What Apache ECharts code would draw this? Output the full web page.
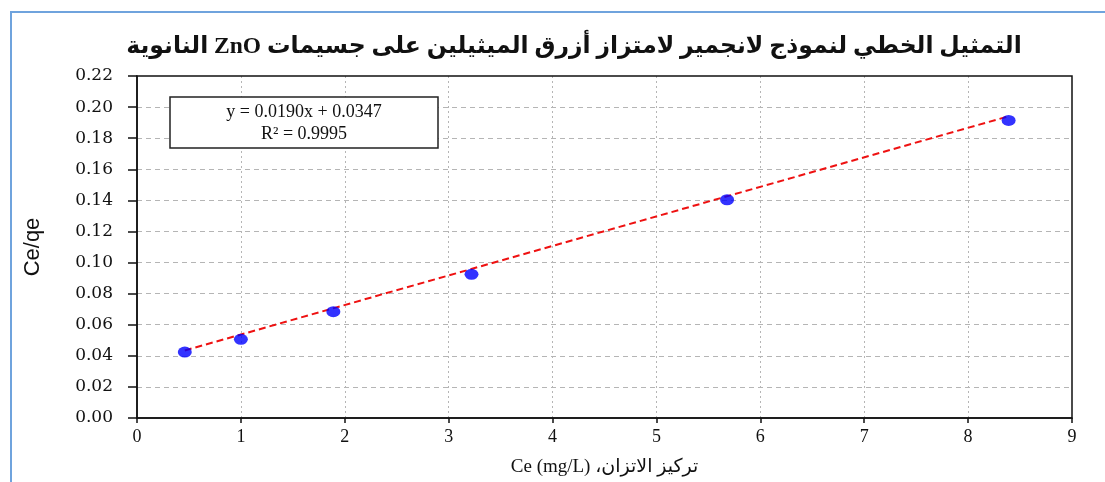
<!DOCTYPE html>
<html>
<head>
<meta charset="utf-8">
<script src="https://cdn.jsdelivr.net/npm/echarts@6/dist/echarts.min.js"></script>
<style>
html,body{margin:0;padding:0;background:#fff;}
#c{width:1105px;height:482px;}
</style>
</head>
<body>
<div id="c"></div>
<script>
// ---- data ----
var ceValues = [0.46, 1.00, 1.89, 3.22, 5.68, 8.39];
var ceqeValues = [0.0424, 0.0506, 0.0684, 0.0924, 0.1404, 0.1914];
var fitSlope = 0.0190;
var fitIntercept = 0.0347;
var equationText = 'y = 0.0190x + 0.0347';
var r2Text = 'R² = 0.9995';
var titleText = 'التمثيل الخطي لنموذج لانجمير لامتزاز أزرق الميثيلين على جسيمات ZnO النانوية';
var xName = 'تركيز الاتزان، Ce (mg/L)';
var yName = 'Ce/qe';
var yTicks = ['0.00','0.02','0.04','0.06','0.08','0.10','0.12','0.14','0.16','0.18','0.20','0.22'];

var points = ceValues.map(function (x, i) { return [x, ceqeValues[i]]; });
var xMin = Math.min.apply(null, ceValues), xMax = Math.max.apply(null, ceValues);
var fitLine = [[xMin, fitSlope * xMin + fitIntercept], [xMax, fitSlope * xMax + fitIntercept]];

var chart = echarts.init(document.getElementById('c'));
chart.setOption({
  animation: false,
  backgroundColor: '#fff',
  title: {
    text: '\u202B' + titleText + '\u202C',
    left: 569, top: 30, textAlign: 'center',
    textStyle: { fontFamily: "'Liberation Serif', 'DejaVu Sans'", fontWeight: 'bold', fontSize: 23.5, color: '#111' }
  },
  grid: { left: 137, right: 33, top: 76, bottom: 58, show: true, borderColor: '#111', borderWidth: 1.5, backgroundColor: 'transparent', z: 5 },
  xAxis: {
    type: 'value', min: 0, max: 9, interval: 1,
    name: '\u202B' + xName + '\u202C', nameLocation: 'middle', nameGap: 40,
    nameTextStyle: { fontFamily: "'Liberation Serif', 'DejaVu Sans'", fontSize: 19, color: '#111' },
    axisLine: { show: true, onZero: false, lineStyle: { color: '#111', width: 1.5 } },
    axisTick: { show: true, length: 5, lineStyle: { color: '#111', width: 1.5 } },
    axisLabel: { margin: 10, fontFamily: "'Liberation Serif'", fontSize: 18, color: '#111' },
    splitLine: { show: true, showMinLine: false, showMaxLine: false, lineStyle: { color: '#b5b5b5', type: [2, 3], width: 1 } }
  },
  yAxis: {
    type: 'value', min: 0, max: 0.22, interval: 0.02,
    name: yName, nameLocation: 'middle', nameGap: 93, nameRotate: 90,
    nameTextStyle: { fontFamily: "'Liberation Sans Narrow', 'Liberation Sans'", fontSize: 22, color: '#111' },
    axisLine: { show: true, lineStyle: { color: '#111', width: 1.5 } },
    axisTick: { show: true, length: 9, lineStyle: { color: '#111', width: 1.5 } },
    axisLabel: { margin: 24, fontFamily: "'DejaVu Serif'", fontSize: 17, color: '#111',
      formatter: function (v) { return yTicks[Math.round(v / 0.02)]; } },
    splitLine: { show: true, showMinLine: false, showMaxLine: false, lineStyle: { color: '#b5b5b5', type: [5, 4], width: 1 } }
  },
  series: [
    {
      type: 'line', data: fitLine, symbol: 'none', silent: true,
      lineStyle: { color: '#ee1111', width: 2, type: [7, 4] }, z: 2
    },
    {
      type: 'scatter', data: points, symbol: 'circle', symbolSize: [14, 11],
      itemStyle: { color: '#0000ff' }, z: 3
    }
  ],
  graphic: [
    { type: 'rect', shape: { x: 11, y: 12, width: 1300, height: 700 }, style: { fill: 'none', stroke: '#6fa3dd', lineWidth: 2 }, silent: true, z: 100 },
    { type: 'rect', shape: { x: 170, y: 97, width: 268, height: 51 }, style: { fill: '#fff', stroke: '#222', lineWidth: 1.5 }, z: 10 },
    { type: 'text', x: 304, y: 112, style: { text: equationText, font: "18px 'Liberation Serif'", fill: '#111', align: 'center', verticalAlign: 'middle' }, z: 11 },
    { type: 'text', x: 304, y: 134, style: { text: r2Text, font: "18px 'Liberation Serif'", fill: '#111', align: 'center', verticalAlign: 'middle' }, z: 11 }
  ]
});
</script>
</body>
</html>
